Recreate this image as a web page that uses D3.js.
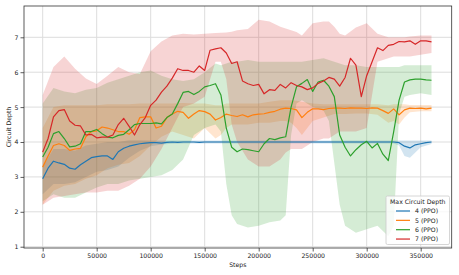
<!DOCTYPE html>
<html>
<head>
  <script src="https://cdn.jsdelivr.net/npm/d3@7"></script>
  <style>
    body { margin: 0; background: white; }
    svg { font-family: "DejaVu Sans", sans-serif; }
  </style>
</head>
<body>
  <script>
    // mean lines, one value every 5000 steps (0 .. 360000)
    const meanSteps = d3.range(0, 360001, 5000)

    const mean4 = [2.95, 3.25, 3.45, 3.4, 3.36, 3.25, 3.22, 3.35, 3.45, 3.55, 3.58, 3.6, 3.6, 3.5, 3.72,
      3.82, 3.88, 3.92, 3.95, 3.97, 3.98, 3.98, 3.97, 3.99, 4.0, 3.99, 4.0, 4.0, 4.0, 3.99,
      4.0, 4.0, 4.0, 4.0, 4.0, 4.0, 4.0, 4.0, 4.0, 4.0, 4.0, 4.0, 4.0, 4.0, 4.0,
      4.0, 4.0, 4.0, 4.0, 4.0, 4.0, 4.0, 4.0, 4.0, 4.0, 4.0, 4.0, 4.0, 4.0, 4.0,
      4.0, 4.0, 4.0, 4.0, 4.0, 4.0, 3.98, 3.88, 3.83, 3.92, 3.95, 3.98, 4.0]

    const mean5 = [3.28, 3.6, 3.9, 3.95, 3.9, 3.76, 3.8, 3.82, 4.15, 4.3, 4.32, 4.43, 4.4, 4.35, 4.3,
      4.3, 4.22, 4.35, 4.7, 4.72, 4.72, 4.4, 4.45, 4.7, 4.8, 4.88, 4.85, 4.68, 4.8, 4.9,
      4.87, 4.8, 4.63, 4.7, 4.8, 4.76, 4.73, 4.78, 4.72, 4.78, 4.8, 4.81, 4.85, 4.88, 4.94,
      4.97, 4.96, 4.92, 4.7, 4.85, 4.95, 4.95, 4.93, 4.96, 4.97, 4.97, 4.96, 4.98, 4.97, 4.97,
      4.96, 4.98, 4.97, 4.9, 4.82, 4.95, 4.78, 4.92, 4.97, 4.96, 4.97, 4.95, 4.97]

    const mean6 = [3.57, 3.85, 4.24, 4.3, 4.1, 3.86, 3.88, 3.95, 4.3, 4.3, 4.36, 4.24, 4.14, 4.12, 4.19,
      4.22, 4.35, 4.5, 4.53, 4.53, 4.53, 4.55, 4.52, 4.7, 4.8, 5.1, 5.42, 5.45, 5.36, 5.45,
      5.58, 5.62, 5.67, 5.35, 4.4, 3.85, 3.72, 3.8, 3.78, 3.75, 3.72, 3.95, 4.1, 4.07, 4.12,
      4.15, 5.0, 5.58, 5.68, 5.79, 5.45, 5.72, 5.77, 5.6, 5.3, 4.2, 3.85, 3.6, 3.78, 3.92,
      4.02, 3.83, 3.96, 3.65, 3.47, 4.3, 5.2, 5.72, 5.78, 5.8, 5.8, 5.78, 5.77]

    const mean7 = [3.71, 4.1, 4.72, 4.9, 4.93, 4.6, 4.48, 4.46, 4.2, 4.22, 4.12, 4.14, 4.14, 4.2, 4.5,
      4.68, 4.45, 4.2, 4.5, 4.7, 5.05, 5.2, 5.43, 5.6, 5.83, 6.1, 6.05, 6.05, 6.0, 6.18,
      6.05, 6.63, 6.67, 6.7, 6.55, 6.25, 6.3, 5.75, 5.67, 5.62, 5.65, 5.38, 5.5, 5.48, 5.65,
      5.55, 5.7, 5.62, 5.58, 5.5, 5.55, 5.68, 5.75, 5.85, 5.8, 5.6, 5.85, 6.4, 6.2, 5.3,
      5.9, 6.3, 6.7, 6.62, 6.77, 6.8, 6.88, 6.87, 6.9, 6.8, 6.9, 6.9, 6.87]

    // min / max bands
    const bandSteps = [0, 10000, 20000, 30000, 40000, 50000, 60000, 70000, 80000, 90000,
      100000, 110000, 120000, 130000, 140000, 150000, 160000, 165000, 170000, 175000,
      180000, 190000, 200000, 210000, 220000, 225000, 230000, 235000, 240000, 250000,
      260000, 265000, 270000, 275000, 280000, 290000, 300000, 310000, 320000, 325000,
      330000, 335000, 340000, 350000, 360000]

    const lo4 = [2.5, 2.8, 2.8, 2.85, 3.0, 3.15, 3.2, 3.3, 3.55, 3.75,
      3.88, 3.93, 3.95, 3.96, 3.96, 3.96, 3.96, 3.96, 3.96, 3.96,
      3.96, 3.96, 3.96, 3.96, 3.96, 3.96, 3.96, 3.96, 3.96, 3.96,
      3.96, 3.96, 3.96, 3.96, 3.96, 3.96, 3.96, 3.96, 3.96, 3.96,
      3.9, 3.6, 3.55, 3.85, 3.94]
    const hi4 = [3.3, 3.8, 3.8, 3.75, 3.9, 3.95, 4.0, 4.0, 4.05, 4.05,
      4.04, 4.04, 4.04, 4.04, 4.04, 4.04, 4.04, 4.04, 4.04, 4.04,
      4.04, 4.04, 4.04, 4.04, 4.04, 4.04, 4.04, 4.04, 4.04, 4.04,
      4.04, 4.04, 4.04, 4.04, 4.04, 4.04, 4.04, 4.04, 4.04, 4.04,
      4.04, 4.04, 4.04, 4.04, 4.04]

    const lo5 = [2.2, 2.6, 2.75, 2.8, 2.95, 3.05, 3.25, 3.35, 3.4, 3.6,
      3.9, 4.15, 4.3, 4.2, 4.1, 4.4, 4.1, 4.2, 4.4, 4.5,
      4.5, 4.5, 4.55, 4.55, 4.6, 4.6, 4.55, 4.4, 4.2, 4.6,
      4.7, 4.75, 4.8, 4.8, 4.8, 4.82, 4.82, 4.78, 4.55, 4.6,
      4.5, 4.7, 4.85, 4.88, 4.88]
    const hi5 = [4.4, 5.0, 5.05, 5.05, 5.05, 5.05, 5.08, 5.08, 5.08, 5.1,
      5.1, 5.1, 5.1, 5.12, 5.1, 5.1, 5.05, 5.05, 5.1, 5.1,
      5.1, 5.1, 5.1, 5.15, 5.2, 5.2, 5.2, 5.18, 5.15, 5.1,
      5.08, 5.08, 5.08, 5.08, 5.08, 5.08, 5.08, 5.08, 5.05, 5.08,
      5.08, 5.08, 5.06, 5.06, 5.06]

    const lo6 = [2.3, 2.5, 2.4, 2.4, 2.55, 2.7, 2.8, 2.8, 2.9, 2.95,
      3.0, 3.05, 3.2, 3.5, 4.2, 4.4, 4.5, 4.3, 2.8, 1.9,
      1.65, 1.55, 1.6, 1.7, 1.75, 1.9, 4.2, 5.1, 5.2, 5.0,
      4.9, 4.6, 3.4, 2.2, 1.6, 1.4, 1.5, 1.6, 1.3, 1.6,
      4.8, 5.3, 5.35, 5.4, 5.35]
    const hi6 = [5.1, 5.55, 5.45, 5.4, 5.5, 5.55, 5.7, 5.8, 5.9, 6.0,
      6.05, 5.9, 5.8, 5.75, 5.8, 6.0, 6.25, 6.2, 6.25, 6.3,
      6.3, 6.35, 6.3, 6.3, 6.3, 6.3, 6.3, 6.3, 6.3, 6.35,
      6.4, 6.35, 6.3, 6.25, 6.2, 6.2, 6.15, 6.15, 6.15, 6.15,
      6.15, 6.2, 6.2, 6.2, 6.2]

    const lo7 = [2.2, 2.4, 2.45, 2.5, 2.55, 2.55, 2.6, 2.6, 2.75, 2.95,
      3.3, 3.8, 4.4, 5.0, 5.1, 5.3, 6.3, 6.3, 5.8, 4.5,
      4.0, 3.5, 3.3, 3.3, 3.5, 3.7, 3.8, 3.8, 3.8, 4.0,
      4.1, 4.1, 4.2, 4.3, 4.3, 4.3, 4.4, 6.3, 6.4, 6.45,
      6.45, 6.45, 6.45, 6.5, 6.55]
    const hi7 = [5.35, 6.15, 6.45, 6.1, 5.82, 5.66, 5.9, 6.15, 6.0, 5.95,
      6.6, 6.88, 7.05, 7.1, 7.08, 7.1, 7.12, 7.13, 7.14, 7.16,
      7.2, 7.24, 7.5, 7.45, 7.3, 7.25, 7.2, 7.15, 7.05, 7.4,
      7.45, 7.45, 7.3, 7.1, 7.05, 7.28, 7.4, 7.1, 7.0, 7.0,
      7.0, 7.0, 7.02, 7.05, 7.05]

    const seriesNames = ['4 (PPO)', '5 (PPO)', '6 (PPO)', '7 (PPO)']
    const colors = ['#1f77b4', '#ff7f0e', '#2ca02c', '#d62728']
    const xTicks = [0, 50000, 100000, 150000, 200000, 250000, 300000, 350000]
    const yTicks = [1, 2, 3, 4, 5, 6, 7]

    const series = [
      { mean: mean4, lo: lo4, hi: hi4 },
      { mean: mean5, lo: lo5, hi: hi5 },
      { mean: mean6, lo: lo6, hi: hi6 },
      { mean: mean7, lo: lo7, hi: hi7 }
    ]

    const W = 459, H = 275
    const mLeft = 24, mRight = 451.7, mTop = 6, mBottom = 248

    const svg = d3.select('body').append('svg')
      .attr('width', W).attr('height', H)

    const x = d3.scaleLinear().domain([-17300, 378700]).range([mLeft, mRight])
    const y = d3.scaleLinear().domain([0.963, 7.897]).range([mBottom, mTop])

    // grid
    svg.append('g').selectAll('line').data(xTicks).join('line')
      .attr('x1', d => x(d)).attr('x2', d => x(d))
      .attr('y1', mTop).attr('y2', mBottom)
      .attr('stroke', '#dddddd').attr('stroke-width', 1)
    svg.append('g').selectAll('line').data(yTicks).join('line')
      .attr('x1', mLeft).attr('x2', mRight)
      .attr('y1', d => y(d)).attr('y2', d => y(d))
      .attr('stroke', '#dddddd').attr('stroke-width', 1)

    const area = d3.area()
      .x(d => x(d.s)).y0(d => y(d.lo)).y1(d => y(d.hi))
    const line = d3.line().x(d => x(d.s)).y(d => y(d.v))

    const plot = svg.append('g')

    series.forEach((sr, i) => {
      const pts = bandSteps.map((s, j) => ({ s, lo: sr.lo[j], hi: sr.hi[j] }))
      plot.append('path')
        .attr('d', area(pts))
        .attr('fill', colors[i])
        .attr('fill-opacity', 0.2)
    })

    series.forEach((sr, i) => {
      const pts = meanSteps.map((s, j) => ({ s, v: sr.mean[j] }))
      plot.append('path')
        .attr('d', line(pts))
        .attr('fill', 'none')
        .attr('stroke', colors[i])
        .attr('stroke-width', 1.2)
        .attr('stroke-linejoin', 'round')
    })

    // axes
    const xAxis = svg.append('g')
      .attr('transform', `translate(0,${mBottom})`)
      .call(d3.axisBottom(x).tickValues(xTicks).tickSize(3.5).tickPadding(2).tickFormat(d3.format('d')))
    const yAxis = svg.append('g')
      .attr('transform', `translate(${mLeft},0)`)
      .call(d3.axisLeft(y).tickValues(yTicks).tickSize(3.5).tickPadding(2).tickFormat(d3.format('d')))

    ;[xAxis, yAxis].forEach(a => {
      a.select('.domain').remove()
      a.selectAll('line').attr('stroke', '#333').attr('stroke-width', 0.8)
      a.selectAll('text').attr('font-size', 6.2).attr('fill', '#222')
        .attr('font-family', '"DejaVu Sans", sans-serif')
    })

    // frame
    svg.append('rect')
      .attr('x', mLeft).attr('y', mTop)
      .attr('width', mRight - mLeft).attr('height', mBottom - mTop)
      .attr('fill', 'none').attr('stroke', '#333').attr('stroke-width', 0.8)

    svg.append('text')
      .attr('x', (mLeft + mRight) / 2).attr('y', 267)
      .attr('text-anchor', 'middle').attr('font-size', 6.2).attr('fill', '#222')
      .text('Steps')
    svg.append('text')
      .attr('transform', `translate(11,${(mTop + mBottom) / 2}) rotate(-90)`)
      .attr('text-anchor', 'middle').attr('font-size', 6.2).attr('fill', '#222')
      .text('Circuit Depth')

    // legend
    const lg = svg.append('g').attr('transform', 'translate(386,196)')
    lg.append('rect')
      .attr('width', 63.5).attr('height', 48.5).attr('rx', 1.5)
      .attr('fill', 'white').attr('fill-opacity', 0.8)
      .attr('stroke', '#cccccc').attr('stroke-width', 0.8)
    lg.append('text')
      .attr('x', 31.75).attr('y', 7.9)
      .attr('text-anchor', 'middle').attr('font-size', 6.2).attr('fill', '#222')
      .text('Max Circuit Depth')
    seriesNames.forEach((name, i) => {
      const yy = 15 + i * 9.35
      lg.append('line')
        .attr('x1', 10).attr('x2', 24)
        .attr('y1', yy).attr('y2', yy)
        .attr('stroke', colors[i]).attr('stroke-width', 1.2)
      lg.append('text')
        .attr('x', 29).attr('y', yy + 2.2)
        .attr('font-size', 6.2).attr('fill', '#222')
        .text(name)
    })
  </script>
</body>
</html>
